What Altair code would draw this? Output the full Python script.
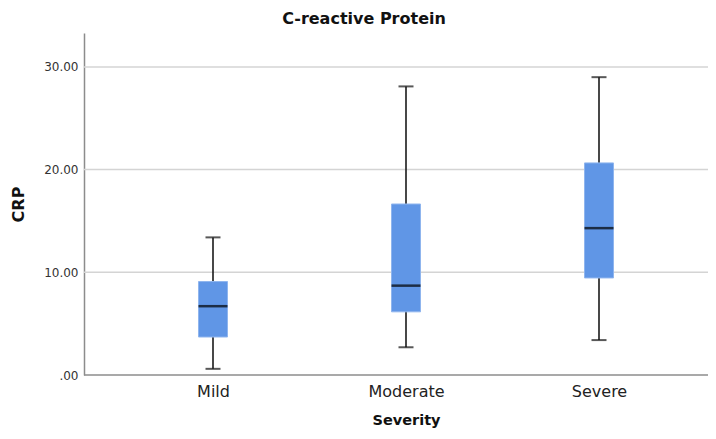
import altair as alt
import pandas as pd

categories = ["Mild", "Moderate", "Severe"]
whisker_low = [0.6, 2.7, 3.4]
q1 = [3.7, 6.15, 9.45]
median = [6.7, 8.7, 14.3]
q3 = [9.1, 16.65, 20.65]
whisker_high = [13.4, 28.1, 29.0]
grid_values = [10, 20, 30]

df = pd.DataFrame({
    "Severity": categories,
    "lo": whisker_low,
    "q1": q1,
    "med": median,
    "q3": q3,
    "hi": whisker_high,
})

FONT = "DejaVu Sans"

x_enc = alt.X(
    "Severity:N",
    sort=categories,
    scale=alt.Scale(type="point", range=[129, 515], padding=0),
    axis=alt.Axis(
        title="Severity",
        domain=False,
        ticks=False,
        tickSize=0,
        grid=False,
        labelAngle=0,
        labelFont=FONT,
        labelFontSize=16,
        labelColor="#222222",
        labelPadding=8,
        titleFont=FONT,
        titleFontSize=14.5,
        titleFontWeight="bold",
        titleColor="#111111",
        titleX=322,
        titleY=45,
        titleBaseline="middle",
        titleAlign="center",
    ),
)

y_scale = alt.Scale(domain=[0, 33.3], nice=False, zero=True)
y_axis = alt.Axis(
    title="CRP",
    values=[0, 10, 20, 30],
    labelExpr="datum.value == 0 ? '.00' : format(datum.value, '.2f')",
    ticks=False,
    tickSize=0,
    grid=False,
    domainColor="#8c8c8c",
    domainWidth=1.5,
    labelFont=FONT,
    labelFontSize=12,
    labelColor="#333333",
    labelPadding=6,
    titleFont=FONT,
    titleFontSize=16,
    titleFontWeight="bold",
    titleColor="#111111",
    titleAngle=270,
    titleX=-66,
    titleY=171,
    titleAlign="center",
    titleBaseline="middle",
)

base = alt.Chart(df)

grid = alt.Chart(pd.DataFrame({"g": grid_values})).mark_rule(color="#d4d4d4", strokeWidth=1.5).encode(
    y=alt.Y("g:Q", scale=y_scale, axis=y_axis)
)

xaxis_line = alt.Chart(pd.DataFrame({"v": [0]})).mark_rule(color="#8c8c8c", strokeWidth=1.5).encode(
    y=alt.Y("v:Q")
)

whisker = base.mark_rule(color="#1a1a1a", strokeWidth=1.6).encode(
    x=x_enc,
    y=alt.Y("lo:Q"),
    y2="hi:Q",
)

box = base.mark_bar(size=29, color="#6096e6", stroke="#8fb5ee", strokeWidth=1).encode(
    x=alt.X("Severity:N", sort=categories),
    y=alt.Y("q1:Q"),
    y2="q3:Q",
)

med = base.mark_tick(size=29, thickness=2.5, color="#000000").encode(
    x=alt.X("Severity:N", sort=categories),
    y=alt.Y("med:Q"),
)

cap_hi = base.mark_tick(size=15, thickness=2, color="#111111").encode(
    x=alt.X("Severity:N", sort=categories),
    y=alt.Y("hi:Q"),
)
cap_lo = base.mark_tick(size=15, thickness=2, color="#111111").encode(
    x=alt.X("Severity:N", sort=categories),
    y=alt.Y("lo:Q"),
)

chart = alt.layer(grid, xaxis_line, whisker, box, med, cap_hi, cap_lo).properties(
    width=624,
    height=342,
    padding={"left": 76, "top": 25, "right": 0, "bottom": 54},
    autosize=alt.AutoSizeParams(type="none"),
    title=alt.TitleParams(
        text="C-reactive Protein",
        font=FONT,
        fontSize=16,
        fontWeight="bold",
        color="#111111",
        anchor="middle",
        dx=-32,
        offset=6,
    ),
).configure_view(stroke=None)

chart.save("out.html", embed_options={"renderer": "svg", "actions": False})
